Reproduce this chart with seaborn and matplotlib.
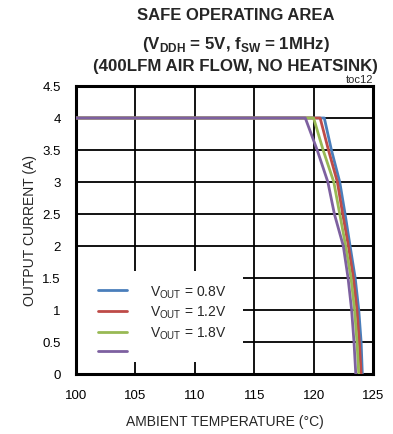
import matplotlib
matplotlib.use("Agg")
import matplotlib.pyplot as plt
import seaborn as sns
import pandas as pd
from matplotlib.lines import Line2D
from matplotlib.patches import Rectangle

# Data
current = [4.0, 4.0, 3.5, 3.0, 2.5, 2.0, 1.5, 1.0, 0.5, 0.0]
temp_08 = [100, 120.9, 121.5, 122.2, 122.65, 123.07, 123.5, 123.8, 124.0, 124.1]
temp_12 = [100, 120.55, 121.25, 122.0, 122.45, 122.93, 123.35, 123.65, 123.85, 124.0]
temp_18 = [100, 120.0, 120.8, 121.7, 122.2, 122.7, 123.15, 123.45, 123.65, 123.8]
temp_25 = [100, 119.3, 120.3, 121.2, 121.75, 122.5, 122.9, 123.2, 123.4, 123.55]
series = ["0.8V", "1.2V", "1.8V", "2.5V"]
legend_labels = [r"V$_{\mathregular{OUT}}$ = 0.8V", r"V$_{\mathregular{OUT}}$ = 1.2V",
                 r"V$_{\mathregular{OUT}}$ = 1.8V", ""]
colors = ["#4a7ebb", "#be4b48", "#98b954", "#7d60a0"]
x_ticks = [100, 105, 110, 115, 120, 125]
y_ticks = [0, 0.5, 1, 1.5, 2, 2.5, 3, 3.5, 4, 4.5]

rows = []
for name, temps in zip(series, [temp_08, temp_12, temp_18, temp_25]):
    for t, c in zip(temps, current):
        rows.append({"temp": t, "current": c, "series": name})
df = pd.DataFrame(rows)

sns.set_theme(style="white")
FONT = ["Liberation Sans", "DejaVu Sans"]
plt.rcParams["font.family"] = FONT
plt.rcParams["mathtext.fontset"] = "custom"
plt.rcParams["mathtext.rm"] = "Liberation Sans"
plt.rcParams["mathtext.bf"] = "Liberation Sans:bold"

fig = plt.figure(figsize=(3.93, 4.35), dpi=100)
W, H = 393, 435
L, R, T, B = 76, 373, 87, 375
ax = fig.add_axes([L / W, (H - B) / H, (R - L) / W, (B - T) / H])

sns.lineplot(data=df, x="temp", y="current", hue="series", hue_order=series,
             palette=colors, sort=False, estimator=None, units="series",
             linewidth=2.0, ax=ax, legend=False, zorder=3)

ax.set_xlim(100, 125)
ax.set_ylim(0, 4.5)
ax.set_xticks(x_ticks)
ax.set_xticklabels([str(v) for v in x_ticks])
ax.set_yticks(y_ticks)
ax.set_yticklabels([("%g" % v) for v in y_ticks])
ax.grid(True, color="black", linewidth=1.3)
ax.set_axisbelow(True)
ax.tick_params(axis="both", labelsize=9.5, length=0, colors="black")
ax.tick_params(axis="y", pad=11)
ax.tick_params(axis="x", pad=11)
for s in ax.spines.values():
    s.set_color("black")
    s.set_linewidth(2.2)
ax.set_xlabel("AMBIENT TEMPERATURE (°C)", fontsize=10, labelpad=9)
ax.set_ylabel("OUTPUT CURRENT (A)", fontsize=10, labelpad=4)

# white legend background box
def px2ax(x, y):
    return ((x - L) / (R - L), (B - y) / (B - T))
x0, y0 = px2ax(77, 363)
x1, y1 = px2ax(243, 272)
ax.add_patch(Rectangle((x0, y0), x1 - x0, y1 - y0, transform=ax.transAxes,
                       facecolor="white", edgecolor="none", zorder=2))

handles = [Line2D([0], [0], color=c, linewidth=2.0) for c in colors]
lx, ly = px2ax(98, 360)
leg = ax.legend(handles, legend_labels, loc="lower left",
                bbox_to_anchor=(lx, ly), frameon=False, fontsize=10,
                handlelength=2.1, handletextpad=1.65, labelspacing=0.3,
                borderpad=0.0, borderaxespad=0.0)
leg.set_zorder(5)

fig.text(0.60, 1 - 15 / H, "SAFE OPERATING AREA", ha="center", va="center",
         fontsize=12, fontweight="bold")
fig.text(0.60, 1 - 44 / H,
         r"(V$_{\mathbf{DDH}}$ = 5V, f$_{\mathbf{SW}}$ = 1MHz)",
         ha="center", va="center", fontsize=12.2, fontweight="bold")
fig.text(0.60, 1 - 66 / H, "(400LFM AIR FLOW, NO HEATSINK)", ha="center",
         va="center", fontsize=12.2, fontweight="bold")
fig.text(R / W, 1 - 80 / H, "toc12", ha="right", va="center", fontsize=8)

fig.savefig("out.png", dpi=100)
